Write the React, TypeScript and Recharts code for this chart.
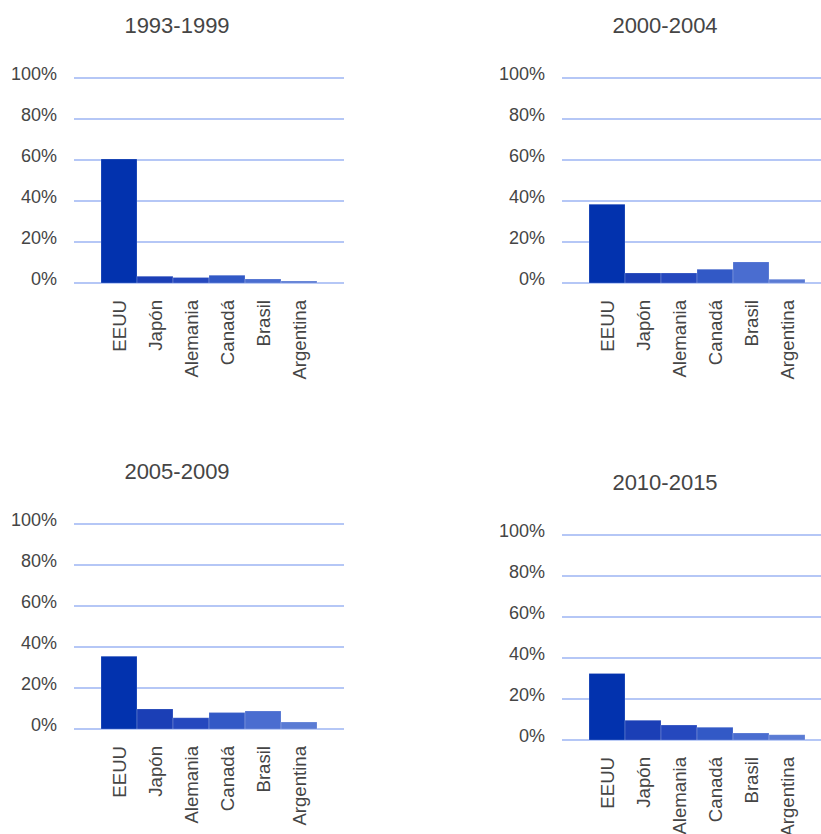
import React from 'react';
import { BarChart, Bar, XAxis, YAxis, CartesianGrid, Cell } from 'recharts';

const CATEGORIES = ['EEUU', 'Japón', 'Alemania', 'Canadá', 'Brasil', 'Argentina'];
const PERIODS = ['1993-1999', '2000-2004', '2005-2009', '2010-2015'];

// share of each country per period, in percent
const SHARE_1993_1999 = [60.5, 3.3, 2.7, 3.8, 2.0, 1.0];
const SHARE_2000_2004 = [38.4, 4.9, 4.9, 6.7, 10.3, 1.8];
const SHARE_2005_2009 = [35.5, 9.8, 5.5, 8.0, 8.8, 3.4];
const SHARE_2010_2015 = [32.5, 9.6, 7.3, 6.2, 3.4, 2.6];

const Y_TICKS = [0, 20, 40, 60, 80, 100];

const BAR_COLORS = ['#0232ae', '#1b3fb6', '#2548be', '#3259c6', '#4a6dd0', '#5a7bd4'];

const FONT = '"Liberation Sans", Arial, sans-serif';
const TEXT_COLOR = '#454545';
const GRID_COLOR = '#b5c7f6';

const YTick = (props: any) => {
    const { x, y, payload } = props;
    return (
        <text x={x} y={y - 4} dy="0.355em" textAnchor="end" fontSize={18} fontFamily={FONT} fill={TEXT_COLOR}>
            {payload.value}%
        </text>
    );
};

const XTick = (props: any) => {
    const { x, y, payload } = props;
    return (
        <g transform={`translate(${x},${y})`}>
            <text x={-17} y={0} dy="0.36em" transform="rotate(-90)" textAnchor="end" fontSize={18.6} fontFamily={FONT} fill={TEXT_COLOR}>
                {payload.value}
            </text>
        </g>
    );
};

interface PanelProps {
    title: string;
    values: number[];
    left: number;
    top: number;
}

function Panel({ title, values, left, top }: PanelProps) {
    const data = CATEGORIES.map((name, i) => ({ name, value: values[i] }));
    return (
        <div style={{ position: 'absolute', left, top, width: 360, height: 400 }}>
            <svg width={360} height={50} style={{ position: 'absolute', left: 0, top: 0 }}>
                <text x={177} y={33} textAnchor="middle" fontSize={22} fontFamily={FONT} fill={TEXT_COLOR}>
                    {title}
                </text>
            </svg>
            <div style={{ position: 'absolute', left: 0, top: 0 }}>
                <BarChart
                    width={360}
                    height={400}
                    data={data}
                    margin={{ top: 78, right: 16, left: 0, bottom: 0 }}
                    barCategoryGap={0}
                    barGap={0}
                >
                    <CartesianGrid vertical={false} stroke={GRID_COLOR} strokeWidth={2} />
                    <XAxis
                        dataKey="name"
                        interval={0}
                        height={117}
                        padding={{ left: 27, right: 27 }}
                        axisLine={false}
                        tickLine={false}
                        tickSize={0}
                        tickMargin={0}
                        tick={<XTick />}
                    />
                    <YAxis
                        width={74}
                        domain={[0, 100]}
                        ticks={Y_TICKS}
                        axisLine={false}
                        tickLine={false}
                        tickSize={0}
                        tickMargin={17}
                        tick={<YTick />}
                    />
                    <Bar dataKey="value" isAnimationActive={false} stroke="rgba(255,255,255,0.2)" strokeWidth={1}>
                        {data.map((d, i) => (
                            <Cell key={d.name} fill={BAR_COLORS[i]} />
                        ))}
                    </Bar>
                </BarChart>
            </div>
        </div>
    );
}

export default function App() {
    return (
        <div style={{ position: 'absolute', left: 0, top: 0, width: 821, height: 834, overflow: 'hidden', background: '#fff' }}>
            <Panel title={PERIODS[0]} values={SHARE_1993_1999} left={0} top={0} />
            <Panel title={PERIODS[1]} values={SHARE_2000_2004} left={488} top={0} />
            <Panel title={PERIODS[2]} values={SHARE_2005_2009} left={0} top={446} />
            <Panel title={PERIODS[3]} values={SHARE_2010_2015} left={488} top={457} />
        </div>
    );
}
